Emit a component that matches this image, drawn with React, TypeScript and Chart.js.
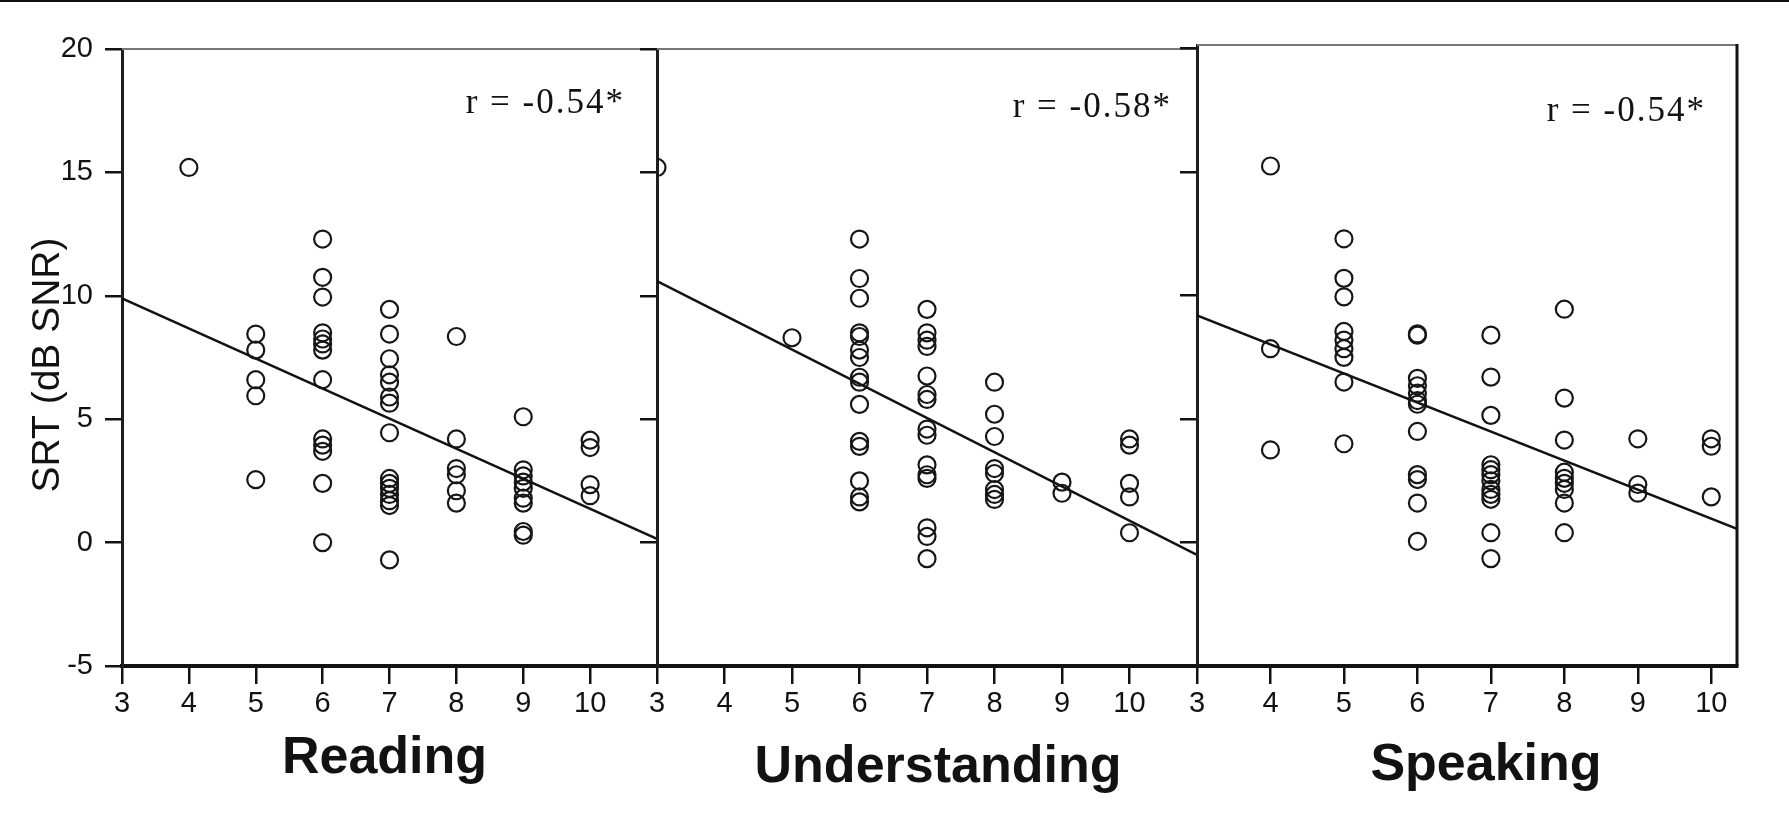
import { useEffect, useRef } from "react";
import { Chart, registerables } from "chart.js";

Chart.register(...registerables);

// Tick values shared by the three panels
const xTickValues = [3, 4, 5, 6, 7, 8, 9, 10];
const yTickValues = [-5, 0, 5, 10, 15, 20];

// Self-rated score (x) against SRT in dB SNR (y)
const readingPoints: [number, number][] = [
  [4, 15.2],
  [5, 8.45], [5, 7.8], [5, 6.6], [5, 5.95], [5, 2.55],
  [6, 12.3], [6, 10.75], [6, 9.95], [6, 8.5], [6, 8.25], [6, 8.05], [6, 7.8], [6, 6.6],
  [6, 4.2], [6, 3.95], [6, 3.7], [6, 2.4], [6, 0.0],
  [7, 9.45], [7, 8.45], [7, 7.45], [7, 6.8], [7, 6.5], [7, 5.9], [7, 5.65], [7, 4.45],
  [7, 2.6], [7, 2.4], [7, 2.2], [7, 1.95], [7, 1.7], [7, 1.5], [7, -0.7],
  [8, 8.35], [8, 4.2], [8, 3.0], [8, 2.75], [8, 2.1], [8, 1.6],
  [9, 5.1], [9, 2.95], [9, 2.7], [9, 2.45], [9, 2.2], [9, 1.8], [9, 1.6], [9, 0.45], [9, 0.3],
  [10, 4.15], [10, 3.85], [10, 2.35], [10, 1.9],
];

const understandingPoints: [number, number][] = [
  [3, 15.2],
  [5, 8.3],
  [6, 12.3], [6, 10.7], [6, 9.9], [6, 8.5], [6, 8.35], [6, 7.8], [6, 7.5], [6, 6.7], [6, 6.5],
  [6, 5.6], [6, 4.1], [6, 3.9], [6, 2.5], [6, 1.85], [6, 1.65],
  [7, 9.45], [7, 8.5], [7, 8.2], [7, 7.95], [7, 6.75], [7, 6.0], [7, 5.8], [7, 4.6], [7, 4.35],
  [7, 3.15], [7, 2.75], [7, 2.6], [7, 0.6], [7, 0.25], [7, -0.65],
  [8, 6.5], [8, 5.2], [8, 4.3], [8, 3.0], [8, 2.8], [8, 2.15], [8, 1.95], [8, 1.75],
  [9, 2.45], [9, 2.0],
  [10, 4.2], [10, 3.95], [10, 2.4], [10, 1.85], [10, 0.4],
];

const speakingPoints: [number, number][] = [
  [4, 15.25], [4, 7.85], [4, 3.75],
  [5, 12.3], [5, 10.7], [5, 9.95], [5, 8.55], [5, 8.2], [5, 7.85], [5, 7.5], [5, 6.5], [5, 4.0],
  [6, 8.45], [6, 8.4], [6, 6.65], [6, 6.35], [6, 6.05], [6, 5.75], [6, 5.6], [6, 4.5],
  [6, 2.75], [6, 2.55], [6, 1.6], [6, 0.05],
  [7, 8.4], [7, 6.7], [7, 5.15], [7, 3.15], [7, 2.95], [7, 2.75], [7, 2.5], [7, 2.15],
  [7, 1.95], [7, 1.75], [7, 0.4], [7, -0.65],
  [8, 9.45], [8, 5.85], [8, 4.15], [8, 2.85], [8, 2.6], [8, 2.4], [8, 2.15], [8, 1.6], [8, 0.4],
  [9, 4.2], [9, 2.35], [9, 2.0],
  [10, 4.2], [10, 3.9], [10, 1.85],
];

// Least-squares fit lines, as [score, SRT] end points
const readingFit: [number, number][] = [[3, 9.9], [11, 0.15]];
const understandingFit: [number, number][] = [[3, 10.6], [11, -0.5]];
const speakingFit: [number, number][] = [[3, 9.2], [10.35, 0.55]];

const correlationLabels = ["r = -0.54*", "r = -0.58*", "r = -0.54*"];
const panelCaptions = ["Reading", "Understanding", "Speaking"];
const yAxisTitle = "SRT (dB SNR)";

const panelPoints = [readingPoints, understandingPoints, speakingPoints];
const panelFits = [readingFit, understandingFit, speakingFit];
const panelXMax = [11, 11, 10.35];
const panelYMax = [20, 20, 20.15];

// Layout of the figure (pixels)
const FIG_W = 1789;
const FIG_H = 819;
const AXIS_W = 122;
const AXIS_BOTTOM = 666;
const RIGHT_PAD = 60;
const Y_TITLE_X = 48;
const Y_TITLE_Y = 365;
const frames = [
  { left: 122, right: 657, top: 49, rInset: 32, rY: 104, capDx: -5, capBase: 773, rightBorder: false },
  { left: 657, right: 1197, top: 49, rInset: 25, rY: 108, capDx: 11, capBase: 782, rightBorder: false },
  { left: 1197, right: 1737, top: 45, rInset: 31, rY: 112, capDx: 19, capBase: 780, rightBorder: true },
];

const INK = "#121212";
const TICK_FONT = '"Liberation Sans Narrow", "Liberation Sans", Arial, sans-serif';

const panelDecor = {
  id: "panelDecor",
  afterDraw(chart: any, _args: any, opts: any) {
    const { ctx, chartArea: a } = chart;
    ctx.save();
    // top frame line
    ctx.strokeStyle = "#767676";
    ctx.lineWidth = 2;
    ctx.beginPath();
    ctx.moveTo(a.left, a.top);
    ctx.lineTo(a.right, a.top);
    ctx.stroke();
    if (opts.rightBorder) {
      ctx.strokeStyle = INK;
      ctx.lineWidth = 3;
      ctx.beginPath();
      ctx.moveTo(a.right, a.top - 1);
      ctx.lineTo(a.right, a.bottom);
      ctx.stroke();
    }
    // correlation coefficient
    ctx.fillStyle = INK;
    ctx.font = '35px "Liberation Serif", "DejaVu Serif", serif';
    (ctx as any).letterSpacing = "2px";
    ctx.textAlign = "right";
    ctx.textBaseline = "middle";
    ctx.fillText(opts.rText, a.right - opts.rInset, opts.rY);
    (ctx as any).letterSpacing = "0px";
    // panel caption under the axis
    ctx.font = 'bold 52px "Liberation Sans", Arial, sans-serif';
    ctx.textAlign = "center";
    ctx.textBaseline = "alphabetic";
    ctx.fillText(opts.caption, (a.left + a.right) / 2 + opts.capDx, opts.capBase);
    // shared vertical axis title
    if (opts.yTitle) {
      ctx.translate(Y_TITLE_X, Y_TITLE_Y);
      ctx.rotate(-Math.PI / 2);
      ctx.font = '39px "Liberation Sans", Arial, sans-serif';
      ctx.textAlign = "center";
      ctx.textBaseline = "middle";
      ctx.fillText(opts.yTitle, 0, 0);
    }
    ctx.restore();
  },
};

function Panel({ index }: { index: number }) {
  const ref = useRef<HTMLCanvasElement>(null);
  const f = frames[index];
  const width = f.right - f.left + AXIS_W + RIGHT_PAD;

  useEffect(() => {
    const canvas = ref.current;
    if (!canvas) return;
    const first = index === 0;
    const chart = new Chart(canvas, {
      type: "scatter",
      data: {
        datasets: [
          {
            type: "scatter",
            data: panelPoints[index].map(([x, y]) => ({ x, y })),
            pointStyle: "circle",
            pointRadius: 8.5,
            pointHoverRadius: 8.5,
            pointBorderWidth: 2.2,
            borderColor: "#161616",
            backgroundColor: "rgba(0,0,0,0)",
            clip: 0,
          },
          {
            type: "line",
            data: panelFits[index].map(([x, y]) => ({ x, y })),
            borderColor: INK,
            borderWidth: 2.5,
            pointRadius: 0,
            fill: false,
            clip: 0,
          },
        ],
      },
      options: {
        animation: false,
        responsive: false,
        devicePixelRatio: 1,
        layout: { padding: { left: 0, right: RIGHT_PAD, top: f.top, bottom: 0 } },
        plugins: {
          legend: { display: false },
          tooltip: { enabled: false },
          panelDecor: {
            rText: correlationLabels[index],
            caption: panelCaptions[index],
            rInset: f.rInset,
            rY: f.rY,
            capDx: f.capDx,
            capBase: f.capBase,
            rightBorder: f.rightBorder,
            yTitle: first ? yAxisTitle : "",
          },
        } as any,
        scales: {
          x: {
            type: "linear",
            min: 3,
            max: panelXMax[index],
            afterBuildTicks: (s: any) => {
              s.ticks = xTickValues.map((v) => ({ value: v }));
            },
            afterFit: (s: any) => {
              s.height = FIG_H - AXIS_BOTTOM;
            },
            ticks: {
              autoSkip: false,
              maxRotation: 0,
              padding: 3,
              color: INK,
              font: { family: TICK_FONT, size: 29 },
            },
            grid: { drawOnChartArea: false, drawTicks: true, tickLength: 18, color: INK, lineWidth: 2.5 },
            border: { display: true, color: INK, width: 4 },
          },
          y: {
            type: "linear",
            min: -5,
            max: panelYMax[index],
            afterBuildTicks: (s: any) => {
              s.ticks = yTickValues.map((v) => ({ value: v }));
            },
            afterFit: (s: any) => {
              s.width = AXIS_W;
            },
            ticks: {
              display: first,
              autoSkip: false,
              padding: 12,
              color: INK,
              font: { family: TICK_FONT, size: 29 },
            },
            grid: { drawOnChartArea: false, drawTicks: true, tickLength: 17, color: INK, lineWidth: 2.5 },
            border: { display: true, color: "#1e1e1e", width: 3 },
          },
        },
      },
      plugins: [panelDecor as any],
    } as any);
    return () => chart.destroy();
  }, [index]);

  return (
    <canvas
      ref={ref}
      width={width}
      height={FIG_H}
      style={{ position: "absolute", left: f.left - AXIS_W, top: 0, width, height: FIG_H }}
    />
  );
}

export default function App() {
  return (
    <div
      style={{
        position: "absolute",
        left: 0,
        top: 0,
        width: FIG_W,
        height: FIG_H,
        background: "#ffffff",
        overflow: "hidden",
      }}
    >
      <div style={{ position: "absolute", left: 0, top: 0, width: FIG_W, height: 2, background: "#111" }} />
      <Panel index={0} />
      <Panel index={1} />
      <Panel index={2} />
    </div>
  );
}
